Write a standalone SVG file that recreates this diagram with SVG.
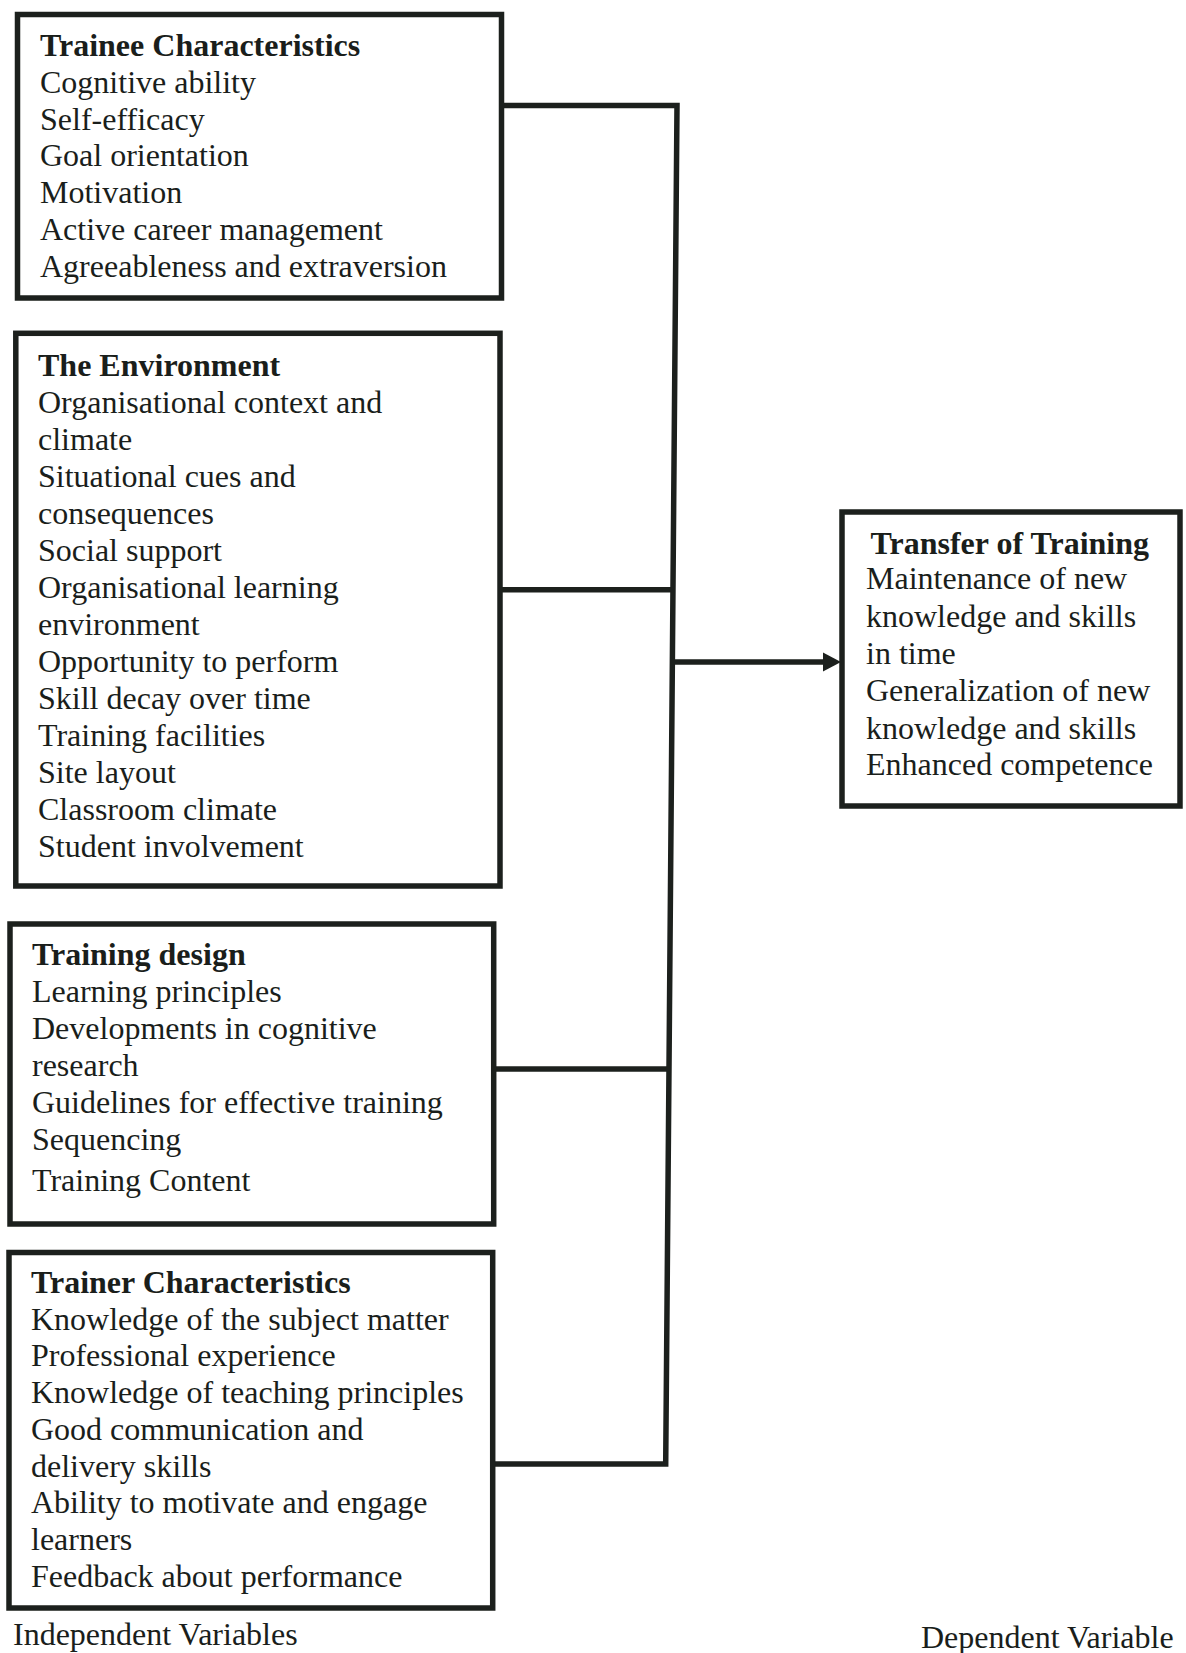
<svg xmlns="http://www.w3.org/2000/svg" width="1186" height="1653" viewBox="0 0 1186 1653">
<style>
text{font-family:"Liberation Serif","Times New Roman",serif;font-size:32px;fill:#1a1e1b}
.t{font-weight:bold}
.box{fill:none;stroke:#1c201d;stroke-width:5.5}
.ln{fill:none;stroke:#1c201d;stroke-width:5.5;stroke-linejoin:miter}
</style>
<rect width="1186" height="1653" fill="#ffffff"/>
<g id="connectors">
<path class="ln" d="M501.5,105.5 H677 L665.7,1464 H492.7"/>
<path class="ln" d="M500,589.7 H674"/>
<path class="ln" d="M493.7,1069 H670"/>
<path class="ln" d="M673,662 H826"/>
<polygon points="841,662 823,652.5 823,671.5" fill="#1c201d"/>
</g>
<g id="trainee">
<rect class="box" x="17.5" y="14.5" width="484" height="283.5"/>
<text class="t" x="40" y="56">Trainee Characteristics</text>
<text x="40" y="92.5">Cognitive ability</text>
<text x="40" y="129.5">Self-efficacy</text>
<text x="40" y="166">Goal orientation</text>
<text x="40" y="203">Motivation</text>
<text x="40" y="240">Active career management</text>
<text x="40" y="277">Agreeableness and extraversion</text>
</g>
<g id="environment">
<rect class="box" x="15.8" y="333.3" width="484.2" height="552.7"/>
<text class="t" x="38" y="375.5">The Environment</text>
<text x="38" y="412.5">Organisational context and</text>
<text x="38" y="449.5">climate</text>
<text x="38" y="486.5">Situational cues and</text>
<text x="38" y="523.5">consequences</text>
<text x="38" y="560.5">Social support</text>
<text x="38" y="597.5">Organisational learning</text>
<text x="38" y="634.5">environment</text>
<text x="38" y="671.5">Opportunity to perform</text>
<text x="38" y="708.5">Skill decay over time</text>
<text x="38" y="745.5">Training facilities</text>
<text x="38" y="782.5">Site layout</text>
<text x="38" y="819.5">Classroom climate</text>
<text x="38" y="856.5">Student involvement</text>
</g>
<g id="design">
<rect class="box" x="10" y="924" width="483.7" height="300"/>
<text class="t" x="32" y="965">Training design</text>
<text x="32" y="1002">Learning principles</text>
<text x="32" y="1039">Developments in cognitive</text>
<text x="32" y="1076">research</text>
<text x="32" y="1113">Guidelines for effective training</text>
<text x="32" y="1150">Sequencing</text>
<text x="32" y="1191">Training Content</text>
</g>
<g id="trainer">
<rect class="box" x="9" y="1252.5" width="483.7" height="355.5"/>
<text class="t" x="31" y="1292.7">Trainer Characteristics</text>
<text x="31" y="1329.5">Knowledge of the subject matter</text>
<text x="31" y="1366.2">Professional experience</text>
<text x="31" y="1403">Knowledge of teaching principles</text>
<text x="31" y="1439.7">Good communication and</text>
<text x="31" y="1476.5">delivery skills</text>
<text x="31" y="1513.2">Ability to motivate and engage</text>
<text x="31" y="1550">learners</text>
<text x="31" y="1586.7">Feedback about performance</text>
</g>
<g id="transfer">
<rect class="box" x="842" y="512" width="338" height="294"/>
<text class="t" x="870.5" y="554">Transfer of Training</text>
<text x="866" y="589">Maintenance of new</text>
<text x="866" y="626.5">knowledge and skills</text>
<text x="866" y="664">in time</text>
<text x="866" y="701">Generalization of new</text>
<text x="866" y="738.5">knowledge and skills</text>
<text x="866" y="775">Enhanced competence</text>
</g>
<g id="labels">
<text x="13" y="1645">Independent Variables</text>
<text x="921" y="1648">Dependent Variable</text>
</g>
</svg>
